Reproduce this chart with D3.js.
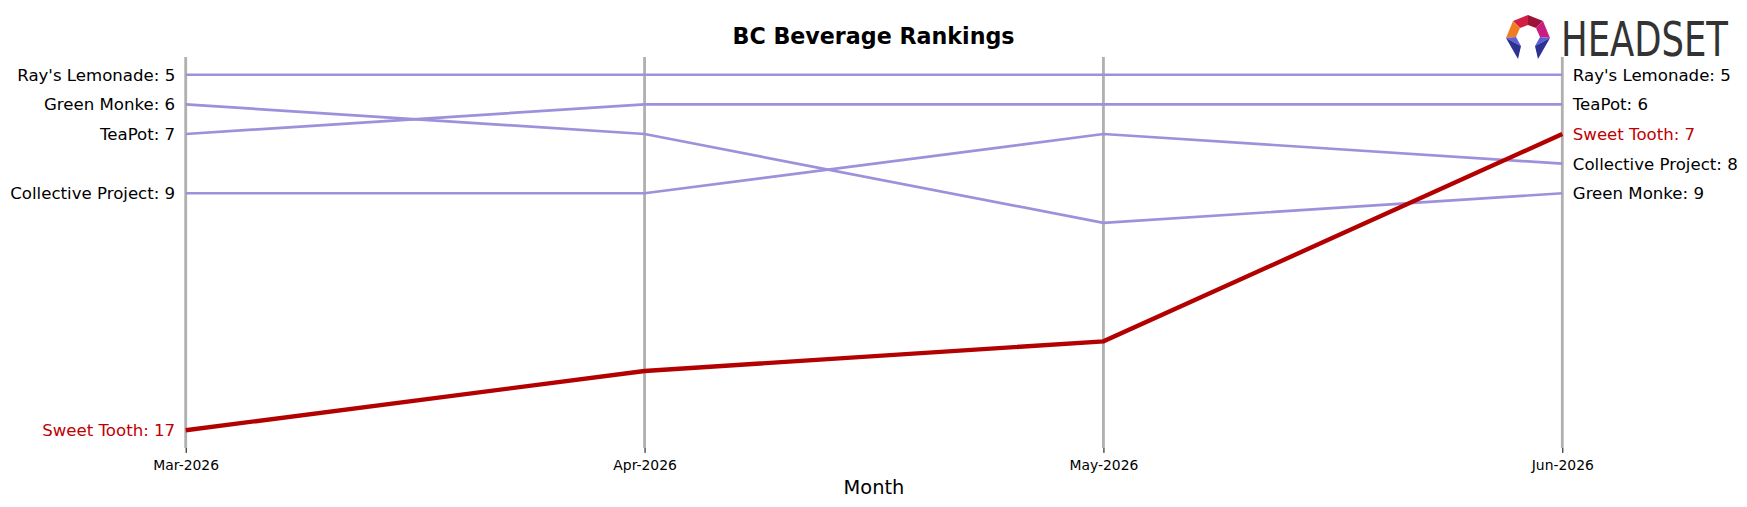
<!DOCTYPE html>
<html>
<head>
<meta charset="utf-8">
<script src="https://cdn.jsdelivr.net/npm/d3@7"></script>
<style>
  body { margin: 0; background: #fff; }
  svg { display: block; font-family: 'DejaVu Sans', sans-serif; }
</style>
</head>
<body>
<div id="chart"></div>
<script>
const months = ['Mar-2026', 'Apr-2026', 'May-2026', 'Jun-2026'];
const brands = ["Ray's Lemonade", 'Green Monke', 'TeaPot', 'Collective Project', 'Sweet Tooth'];
const ranks = [
  [5, 5, 5, 5],
  [6, 7, 10, 9],
  [7, 6, 6, 6],
  [9, 9, 7, 8],
  [17, 15, 14, 7]
];
const highlight = 'Sweet Tooth';
const rankExtent = [4.4, 17.6];

const width = 1747;
const height = 507;
const svg = d3.select('#chart').append('svg').attr('width', width).attr('height', height);

const x = d3.scalePoint().domain(months).range([185.7, 1562.3]);
const y = d3.scaleLinear().domain(rankExtent).range([57, 448]);

const series = brands.map((name, i) => ({ name, values: ranks[i] }));

// vertical month lines
svg.append('g')
  .selectAll('line')
  .data(months)
  .join('line')
  .attr('x1', (d) => x(d))
  .attr('x2', (d) => x(d))
  .attr('y1', y.range()[0])
  .attr('y2', y.range()[1])
  .attr('stroke', '#b0b0b0')
  .attr('stroke-width', 2.8);

const line = d3.line().x((d, i) => x(months[i])).y((d) => y(d));

const ordered = series.filter((s) => s.name !== highlight).concat(series.filter((s) => s.name === highlight));

svg.append('g')
  .selectAll('path')
  .data(ordered)
  .join('path')
  .attr('fill', 'none')
  .attr('stroke', (d) => (d.name === highlight ? '#b30000' : '#9f90db'))
  .attr('stroke-width', (d) => (d.name === highlight ? 4.4 : 2.7))
  .attr('d', (d) => line(d.values));

// labels
const labels = svg.append('g').attr('font-size', 16.6);
labels.selectAll('text.left')
  .data(series)
  .join('text')
  .attr('class', 'left')
  .attr('x', x(months[0]) - 10.5)
  .attr('y', (d) => y(d.values[0]))
  .attr('dy', '0.36em')
  .attr('text-anchor', 'end')
  .attr('fill', (d) => (d.name === highlight ? '#c00000' : '#000'))
  .text((d) => `${d.name}: ${d.values[0]}`);

labels.selectAll('text.right')
  .data(series)
  .join('text')
  .attr('class', 'right')
  .attr('x', x(months[months.length - 1]) + 10.5)
  .attr('y', (d) => y(d.values[d.values.length - 1]))
  .attr('dy', '0.36em')
  .attr('fill', (d) => (d.name === highlight ? '#c00000' : '#000'))
  .text((d) => `${d.name}: ${d.values[d.values.length - 1]}`);

// x axis
const axis = svg.append('g')
  .attr('transform', `translate(0,${y.range()[1]})`)
  .call(d3.axisBottom(x).tickSize(4.9).tickPadding(7));
axis.select('.domain').remove();
axis.selectAll('.tick line').attr('stroke', '#000').attr('stroke-width', 1);
axis.selectAll('.tick text').attr('font-size', 13.9).attr('font-family', 'DejaVu Sans').attr('fill', '#000');

svg.append('text')
  .attr('x', (x.range()[0] + x.range()[1]) / 2)
  .attr('y', 494)
  .attr('text-anchor', 'middle')
  .attr('font-size', 19.4)
  .text('Month');

svg.append('text')
  .attr('x', width / 2)
  .attr('y', 44)
  .attr('text-anchor', 'middle')
  .attr('font-size', 22.2)
  .attr('font-weight', 'bold')
  .text('BC Beverage Rankings');

// logo
const logo = svg.append('g');
const facets = [
  { fill: '#d31f44', pts: [[1513, 21], [1528, 15], [1528, 25], [1520, 28]] },
  { fill: '#9c1538', pts: [[1528, 15], [1543, 21], [1536, 28], [1528, 25]] },
  { fill: '#f27c22', pts: [[1513, 21], [1520, 28], [1516, 37], [1506, 38]] },
  { fill: '#c91d80', pts: [[1543, 21], [1550, 38], [1540, 37], [1536, 28]] },
  { fill: '#5b60d6', pts: [[1506, 38], [1516, 37], [1521, 46]] },
  { fill: '#2c3192', pts: [[1506, 38], [1521, 46], [1518, 59]] },
  { fill: '#5b60d6', pts: [[1550, 38], [1540, 37], [1535, 46]] },
  { fill: '#2c3192', pts: [[1550, 38], [1535, 46], [1538, 59]] }
];
logo.selectAll('polygon')
  .data(facets)
  .join('polygon')
  .attr('fill', (d) => d.fill)
  .attr('points', (d) => d.pts.map((p) => p.join(',')).join(' '));
logo.append('g')
  .attr('transform', 'translate(1561,56) scale(1,1.2)')
  .append('text')
  .attr('font-family', 'DejaVu Sans Condensed, DejaVu Sans')
  .attr('font-size', 40)
  .attr('fill', '#333')
  .attr('textLength', 167)
  .attr('lengthAdjust', 'spacingAndGlyphs')
  .text('HEADSET');
</script>
</body>
</html>
